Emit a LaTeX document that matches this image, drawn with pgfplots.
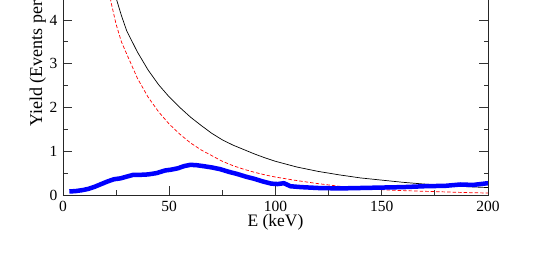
\documentclass[border=0pt]{standalone}
\usepackage{fontspec}
\setmainfont{Liberation Serif}
\usepackage{pgfplots}
\pgfplotsset{compat=1.18}
\begin{document}
\begin{tikzpicture}
\useasboundingbox (0,0) rectangle (550pt,259pt);
\clip (0,0) rectangle (550pt,259pt);
\begin{axis}[
 at={(63pt,64pt)}, anchor=south west,
 scale only axis, width=425pt, height=306.25pt,
 xmin=0, xmax=200, ymin=0, ymax=7,
 xtick={0,50,...,200}, ytick={0,1,...,7},
 minor x tick num=1, minor y tick num=1,
 tick align=inside,
 major tick length=9pt, minor tick length=4.5pt,
 axis line style={line width=0.8pt, black!85},
 every tick/.style={black!80, line width=0.8pt},
 /pgf/number format/assume math mode=true,
 tick label style={font=\fontsize{15.5}{18}\selectfont},
 xticklabel style={inner sep=0pt, yshift=-5.5pt},
 yticklabel style={inner sep=0pt, xshift=-5.5pt},
 xlabel={E (keV)},
 ylabel={Yield (Events per keV)},
 xlabel style={font=\fontsize{17.5}{20}\selectfont, inner sep=0pt,
   at={(axis description cs:0.5,0)}, anchor=base, yshift=-32pt},
 ylabel style={font=\fontsize{18}{21}\selectfont, inner sep=0pt,
   at={(axis description cs:-0.0494,0.222)}, anchor=base west},
]
% black curve
\addplot[black, line width=0.7pt] coordinates {
(20,5.65) (22.5,5.0) (25,4.5) (27.5,4.1) (30,3.75) (35,3.27) (40,2.86) (45,2.52)
(50,2.24) (55,2.0) (60,1.78) (65,1.59) (70,1.41) (75,1.26) (80,1.14) (85,1.04)
(90,0.94) (95,0.85) (100,0.77) (110,0.64) (120,0.54) (130,0.46) (140,0.39)
(150,0.34) (160,0.29) (170,0.25) (180,0.22) (190,0.19) (200,0.17)
};
% red dashed curve
\addplot[red, line width=0.7pt, dash pattern=on 3.5pt off 2pt] coordinates {
(18,6.0) (20,5.2) (22.5,4.43) (25,3.9) (27.5,3.5) (30,3.22) (35,2.67) (40,2.24)
(45,1.9) (50,1.62) (55,1.39) (60,1.19) (65,1.03) (70,0.9) (75,0.77) (80,0.67)
(85,0.59) (90,0.52) (95,0.46) (100,0.41) (110,0.33) (120,0.26) (130,0.2)
(140,0.15) (150,0.12) (160,0.1) (170,0.085) (180,0.07) (190,0.055) (200,0.045)
};
% blue thick data
\addplot[blue, line width=4.5pt, line join=round] coordinates {
(3,0.08) (6,0.09) (9,0.11) (12,0.14) (15,0.19) (18,0.25) (21,0.31) (24,0.36)
(27,0.38) (30,0.42) (33,0.46) (36,0.46) (40,0.47) (44,0.50) (48,0.56) (51,0.58)
(54,0.61) (57,0.66) (60,0.69) (63,0.68) (66,0.66) (70,0.63) (74,0.59) (78,0.53)
(82,0.48) (86,0.42) (90,0.37) (94,0.31) (98,0.26) (101,0.25) (104,0.27) (107,0.20)
(112,0.18) (120,0.16) (130,0.15) (140,0.16) (150,0.17) (160,0.18) (170,0.20)
(180,0.21) (187,0.24) (193,0.23) (200,0.27)
};
\end{axis}
\end{tikzpicture}
\end{document}
